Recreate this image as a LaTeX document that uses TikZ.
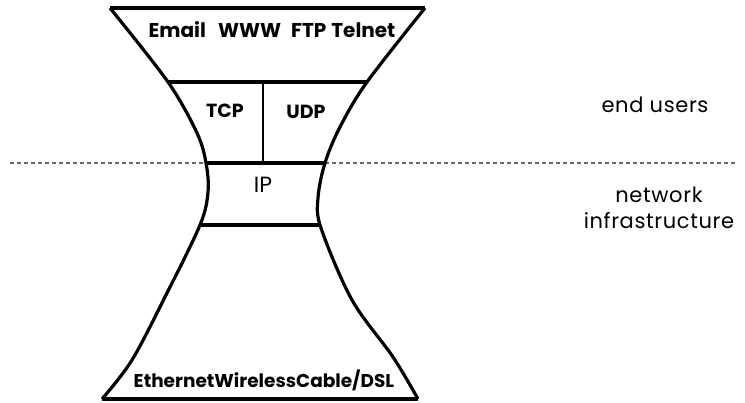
\documentclass[tikz,border=0pt]{standalone}
\usepackage{fontspec}
\setmainfont{Poppins}
\begin{document}
\begin{tikzpicture}[x=1pt,y=-1pt,
  outline/.style={line width=3.2pt,line join=round},
  divider/.style={line width=2pt},
  boundary/.style={dashed,dash pattern=on 4pt off 3pt,line width=1.1pt,draw=black!60},
  label/.style={inner sep=0pt,font=\fontsize{22}{26}\selectfont},
  side/.style={inner sep=0pt,align=center,
    font=\fontsize{21}{26}\selectfont\addfontfeature{LetterSpace=3}},
  blabel/.style={inner sep=0pt,font=\fontsize{19}{22}\selectfont\bfseries}]
\useasboundingbox (0,0) rectangle (745,402);

% end users / network infrastructure boundary
\coordinate (dl) at (10,163);
\coordinate (dr) at (735,163);
\draw[boundary] (dl) -- (dr);

% hourglass outline
\draw[outline] plot[smooth,tension=0.55] coordinates
  {(110,8) (168,82) (197,133) (206,163) (208,192) (200,225) (167,293) (132,360) (102,399)};
\draw[outline] plot[smooth,tension=0.55] coordinates
  {(425,8) (367,82) (340,127) (325,163) (318,198) (321,228) (352,300) (393,357) (418,399)};
\coordinate (tl) at (110,8);   \coordinate (tr) at (425,8);
\coordinate (bl) at (102,399); \coordinate (br) at (418,399);
\draw[outline] (tl) -- (tr);
\draw[outline] (bl) -- (br);

% layer separators
\coordinate (s1l) at (168,82);  \coordinate (s1r) at (367,82);
\coordinate (s2l) at (206,163); \coordinate (s2r) at (325,163);
\coordinate (s3l) at (200,225); \coordinate (s3r) at (320,225);
\draw[outline] (s1l) -- (s1r);
\draw[outline] (s2l) -- (s2r);
\draw[outline] (s3l) -- (s3r);
\coordinate (vt) at (263,82); \coordinate (vb) at (263,163);
\draw[divider] (vt) -- (vb);

% layer contents
\node[blabel,font=\fontsize{20}{24}\selectfont\bfseries] (app) at (272,30)
  {Email\hspace{0.6em}WWW\hspace{0.5em}FTP\hspace{0.25em}Telnet};
\node[blabel] (tcp) at (225,111) {TCP};
\node[blabel] (udp) at (306,112) {UDP};
\node[label] (ip) at (263,185) {IP};
\node[blabel,font=\fontsize{18.5}{22}\selectfont\bfseries] (link) at (264,380)
  {EthernetWirelessCable/DSL};

% side labels
\node[side] (users) at (655,105) {end users};
\node[side] (infra) at (659,208) {network\\infrastructure};
\end{tikzpicture}
\end{document}
